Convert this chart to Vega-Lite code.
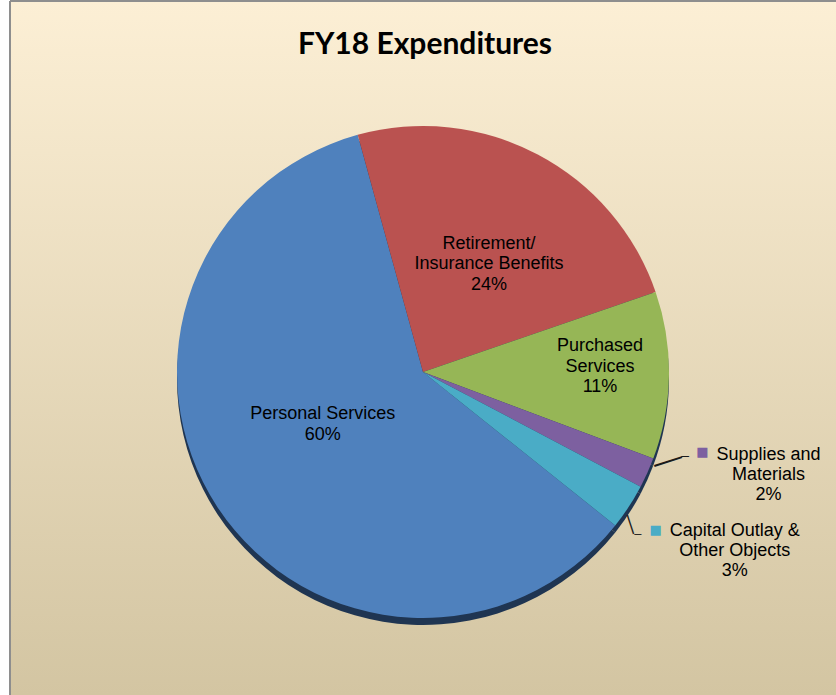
{
  "$schema": "https://vega.github.io/schema/vega-lite/v6.json",
  "width": 826,
  "height": 694,
  "autosize": {"type": "none"},
  "padding": {"left": 10, "top": 1, "right": 0, "bottom": 0},
  "background": "#FFFFFF",
  "view": {
    "stroke": "#8E8E8E",
    "strokeWidth": 2,
    "strokeDash": [826, 1520, 694, 0],
    "fill": {
      "gradient": "linear",
      "x1": 0, "y1": 0, "x2": 0, "y2": 1,
      "stops": [
        {"offset": 0, "color": "#FCEFD5"},
        {"offset": 1, "color": "#D3C5A2"}
      ]
    }
  },
  "title": {
    "text": "FY18 Expenditures",
    "font": "Lato",
    "fontSize": 30,
    "fontWeight": "bold",
    "color": "#000000",
    "anchor": "middle",
    "frame": "group",
    "baseline": "alphabetic",
    "offset": -7,
    "dy": 76,
    "dx": 2
  },
  "data": {
    "values": [
      {"category": "Personal Services", "value": 60, "seq": 1, "label": "Personal Services\n60%"},
      {"category": "Retirement/Insurance Benefits", "value": 24, "seq": 2, "label": "Retirement/\nInsurance Benefits\n24%"},
      {"category": "Purchased Services", "value": 11, "seq": 3, "label": "Purchased\nServices\n11%"},
      {"category": "Supplies and Materials", "value": 2, "seq": 4, "label": "Supplies and\nMaterials\n2%"},
      {"category": "Capital Outlay & Other Objects", "value": 3, "seq": 5, "label": "Capital Outlay &\nOther Objects\n3%"}
    ]
  },
  "layer": [
    {
      "mark": {"type": "arc", "radius": 246, "yOffset": 31, "color": "#1F3552"},
      "encoding": {
        "theta": {"field": "value", "type": "quantitative", "stack": true, "scale": {"range": [2.2445, 8.5277]}},
        "order": {"field": "seq", "type": "quantitative"}
      }
    },
    {
      "mark": {"type": "arc", "radius": 246, "yOffset": 24},
      "encoding": {
        "theta": {"field": "value", "type": "quantitative", "stack": true},
        "order": {"field": "seq", "type": "quantitative"},
        "color": {
          "field": "category",
          "type": "nominal",
          "scale": {
            "domain": ["Personal Services", "Retirement/Insurance Benefits", "Purchased Services", "Supplies and Materials", "Capital Outlay & Other Objects"],
            "range": ["#4F81BD", "#BA5250", "#96B656", "#7D60A0", "#4AACC6"]
          },
          "legend": null
        }
      }
    },
    {
      "mark": {"type": "text", "radius": 120, "yOffset": 24, "dx": 0, "dy": -24, "font": "Liberation Sans", "fontSize": 18, "lineBreak": "\n", "lineHeight": 21, "align": "center", "baseline": "middle", "color": "#000000"},
      "encoding": {
        "theta": {"field": "value", "type": "quantitative", "stack": true},
        "order": {"field": "seq", "type": "quantitative"},
        "text": {"field": "label", "type": "nominal"},
        "opacity": {"condition": {"test": "datum.seq == 1", "value": 1}, "value": 0}
      }
    },
    {
      "mark": {"type": "text", "radius": 120, "yOffset": 24, "dx": 10, "dy": -22, "font": "Liberation Sans", "fontSize": 18, "lineBreak": "\n", "lineHeight": 20.5, "align": "center", "baseline": "middle", "color": "#000000"},
      "encoding": {
        "theta": {"field": "value", "type": "quantitative", "stack": true},
        "order": {"field": "seq", "type": "quantitative"},
        "text": {"field": "label", "type": "nominal"},
        "opacity": {"condition": {"test": "datum.seq == 2", "value": 1}, "value": 0}
      }
    },
    {
      "mark": {"type": "text", "radius": 176, "yOffset": 24, "dx": 1, "dy": -28, "font": "Liberation Sans", "fontSize": 18, "lineBreak": "\n", "lineHeight": 20.5, "align": "center", "baseline": "middle", "color": "#000000"},
      "encoding": {
        "theta": {"field": "value", "type": "quantitative", "stack": true},
        "order": {"field": "seq", "type": "quantitative"},
        "text": {"field": "label", "type": "nominal"},
        "opacity": {"condition": {"test": "datum.seq == 3", "value": 1}, "value": 0}
      }
    },
    {
      "mark": {"type": "text", "radius": 290, "yOffset": 24, "dx": 81, "dy": -36, "font": "Liberation Sans", "fontSize": 18, "lineBreak": "\n", "lineHeight": 20, "align": "center", "baseline": "middle", "color": "#000000"},
      "encoding": {
        "theta": {"field": "value", "type": "quantitative", "stack": true},
        "order": {"field": "seq", "type": "quantitative"},
        "text": {"field": "label", "type": "nominal"},
        "opacity": {"condition": {"test": "datum.seq == 4", "value": 1}, "value": 0}
      }
    },
    {
      "mark": {"type": "text", "radius": 290, "yOffset": 24, "dx": 69, "dy": 0, "font": "Liberation Sans", "fontSize": 18, "lineBreak": "\n", "lineHeight": 20, "align": "center", "baseline": "middle", "color": "#000000"},
      "encoding": {
        "theta": {"field": "value", "type": "quantitative", "stack": true},
        "order": {"field": "seq", "type": "quantitative"},
        "text": {"field": "label", "type": "nominal"},
        "opacity": {"condition": {"test": "datum.seq == 5", "value": 1}, "value": 0}
      }
    },
    {
      "mark": {"type": "text", "radius": 290, "yOffset": 24, "dx": 15, "dy": -38.5, "font": "DejaVu Sans", "fontSize": 13, "align": "center", "baseline": "middle"},
      "encoding": {
        "theta": {"field": "value", "type": "quantitative", "stack": true},
        "order": {"field": "seq", "type": "quantitative"},
        "text": {"value": "■"},
        "color": {"field": "category", "type": "nominal", "legend": null},
        "opacity": {"condition": {"test": "datum.seq == 4", "value": 1}, "value": 0}
      }
    },
    {
      "mark": {"type": "text", "radius": 290, "yOffset": 24, "dx": -10, "dy": -0.5, "font": "DejaVu Sans", "fontSize": 13, "align": "center", "baseline": "middle"},
      "encoding": {
        "theta": {"field": "value", "type": "quantitative", "stack": true},
        "order": {"field": "seq", "type": "quantitative"},
        "text": {"value": "■"},
        "color": {"field": "category", "type": "nominal", "legend": null},
        "opacity": {"condition": {"test": "datum.seq == 5", "value": 1}, "value": 0}
      }
    },
    {
      "mark": {"type": "text", "radius": 245, "yOffset": 24, "angle": -17.7, "dx": 23.8, "dy": -5.4, "font": "Liberation Sans", "fontSize": 29, "align": "center", "baseline": "middle", "color": "#1A1A1A"},
      "encoding": {
        "theta": {"field": "value", "type": "quantitative", "stack": true},
        "order": {"field": "seq", "type": "quantitative"},
        "text": {"value": "—"},
        "opacity": {"condition": {"test": "datum.seq == 4", "value": 1}, "value": 0}
      }
    },
    {
      "mark": {"type": "text", "radius": 245, "yOffset": 24, "dx": 38.6, "dy": -16.8, "font": "Liberation Sans", "fontSize": 14, "align": "center", "baseline": "middle", "color": "#1A1A1A"},
      "encoding": {
        "theta": {"field": "value", "type": "quantitative", "stack": true},
        "order": {"field": "seq", "type": "quantitative"},
        "text": {"value": "–"},
        "opacity": {"condition": {"test": "datum.seq == 4", "value": 1}, "value": 0}
      }
    },
    {
      "mark": {"type": "text", "radius": 245, "yOffset": 24, "angle": 71.9, "dx": 18.2, "dy": 2.5, "font": "Liberation Sans", "fontSize": 20, "align": "center", "baseline": "middle", "color": "#1A1A1A"},
      "encoding": {
        "theta": {"field": "value", "type": "quantitative", "stack": true},
        "order": {"field": "seq", "type": "quantitative"},
        "text": {"value": "—"},
        "opacity": {"condition": {"test": "datum.seq == 5", "value": 1}, "value": 0}
      }
    },
    {
      "mark": {"type": "text", "radius": 245, "yOffset": 24, "dx": 9.9, "dy": 27.7, "font": "Liberation Sans", "fontSize": 13, "align": "center", "baseline": "middle", "color": "#1A1A1A"},
      "encoding": {
        "theta": {"field": "value", "type": "quantitative", "stack": true},
        "order": {"field": "seq", "type": "quantitative"},
        "text": {"value": "–"},
        "opacity": {"condition": {"test": "datum.seq == 5", "value": 1}, "value": 0}
      }
    }
  ]
}
